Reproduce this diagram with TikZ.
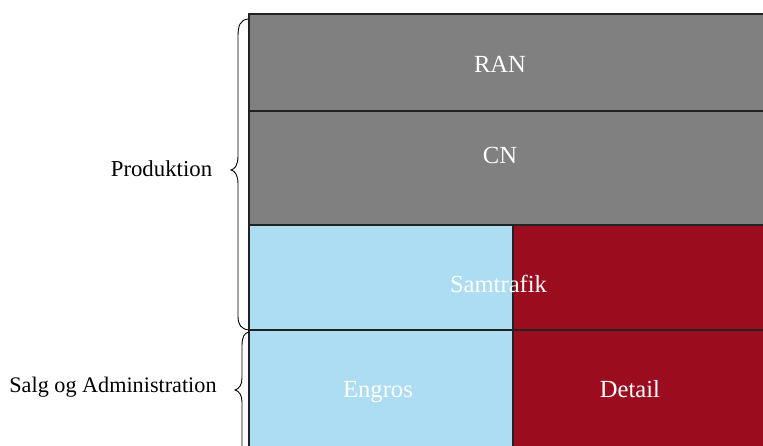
\documentclass[tikz,border=0pt]{standalone}
\usepackage{fontspec}
\setmainfont{Liberation Serif}
\definecolor{grayblk}{HTML}{808080}
\definecolor{lightblu}{HTML}{ADDDF2}
\definecolor{darkred}{HTML}{9C0C1F}
\definecolor{edge}{HTML}{222222}
\tikzset{
  cell/.style={draw=edge, line width=1.1pt},
  wtxt/.style={text=white, anchor=base, inner sep=0pt, font=\fontsize{24.6}{29}\selectfont},
  btxt/.style={text=black, anchor=base, inner sep=0pt, font=\fontsize{22.8}{27}\selectfont},
  bracepath/.style={draw=black, line width=0.9pt}
}
\begin{document}
\begin{tikzpicture}[x=1pt,y=-1pt]
\useasboundingbox (0,0) rectangle (763,446);
\clip (0,0) rectangle (763,446);
% cells
\draw[cell, fill=grayblk] (249,14) rectangle (780,111);
\draw[cell, fill=grayblk] (249,111) rectangle (780,225);
\draw[cell, fill=lightblu] (249,225) rectangle (513,330);
\draw[cell, fill=darkred] (513,225) rectangle (780,330);
\draw[cell, fill=lightblu] (249,330) rectangle (513,460);
\draw[cell, fill=darkred] (513,330) rectangle (780,460);
% texts
\node[wtxt] (ran) at (500,73) {RAN};
\node[wtxt] (cn) at (500,164) {CN};
\node[wtxt] (samtrafik) at (498.5,293) {Samtrafik};
\node[wtxt] (engros) at (378,397) {Engros};
\node[wtxt] (detail) at (630,397) {Detail};
\node[btxt] (produktion) at (161.5,176.5) {Produktion};
\node[btxt, font=\fontsize{22.2}{27}\selectfont] (salg) at (113,392) {Salg og Administration};
% braces
\draw[bracepath] (248,19) .. controls (240,20) and (238,26) .. (238,36)
  -- (238,156) .. controls (238,165) and (235,169) .. (231,170)
  .. controls (235,171) and (238,175) .. (238,184)
  -- (238,316) .. controls (238,325) and (241,329) .. (249,330);
\draw[bracepath] (249,332) .. controls (244,333) and (242,337) .. (242,346)
  -- (242,378) .. controls (242,385) and (239,389) .. (235,390)
  .. controls (239,391) and (242,395) .. (242,402)
  -- (242,460);
\end{tikzpicture}
\end{document}
